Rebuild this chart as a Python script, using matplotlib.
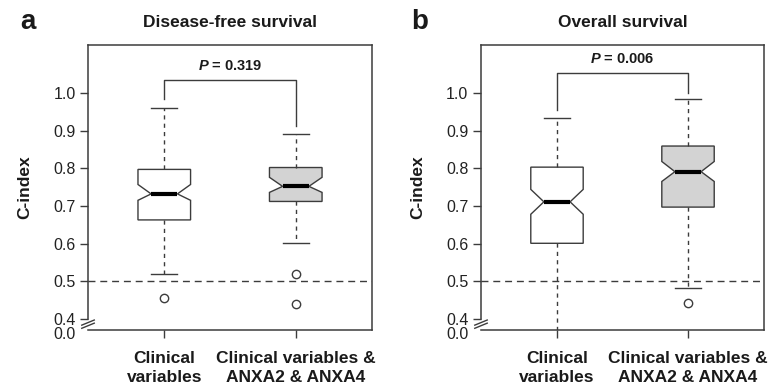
import matplotlib
matplotlib.use("Agg")
import matplotlib.pyplot as plt

plt.rcParams.update({
    "font.family": ["Liberation Sans", "DejaVu Sans"],
    "mathtext.fontset": "custom",
    "mathtext.it": "Liberation Sans:italic:bold",
    "mathtext.rm": "Liberation Sans:bold",
})

# datos
groups = ["Clinical\nvariables", "Clinical variables &\nANXA2 & ANXA4"]
titles = ["Disease-free survival", "Overall survival"]
panel_tags = ["a", "b"]
p_labels = ["0.319", "0.006"]

# panel a
dfs_med = [0.732, 0.752]
dfs_q1 = [0.663, 0.712]
dfs_q3 = [0.797, 0.802]
dfs_cilo = [0.715, 0.736]
dfs_cihi = [0.757, 0.776]
dfs_wlo = [0.519, 0.603]
dfs_whi = [0.961, 0.890]
dfs_out = [[0.455], [0.519, 0.439]]
dfs_bracket = [1.034, 0.984, 0.911]   # altura, pata izq, pata der

# panel b
os_med = [0.711, 0.791]
os_q1 = [0.601, 0.697]
os_q3 = [0.803, 0.859]
os_cilo = [0.678, 0.765]
os_cihi = [0.744, 0.818]
os_wlo = [0.30, 0.482]
os_whi = [0.933, 0.983]
os_out = [[], [0.442]]
os_bracket = [1.052, 0.955, 1.001]

edge = "#3c3c3c"
fills = ["white", "#d3d3d3"]
ylo, yhi = 0.371, 1.127

fig = plt.figure(figsize=(7.68, 3.87), dpi=100)
axes = [fig.add_axes([0.1146, 0.1473, 0.3698, 0.7364]),
        fig.add_axes([0.6263, 0.1473, 0.3685, 0.7364])]

panels = [
    (dfs_med, dfs_q1, dfs_q3, dfs_cilo, dfs_cihi, dfs_wlo, dfs_whi, dfs_out, dfs_bracket),
    (os_med, os_q1, os_q3, os_cilo, os_cihi, os_wlo, os_whi, os_out, os_bracket),
]

for k, ax in enumerate(axes):
    med, q1, q3, cilo, cihi, wlo, whi, out, br = panels[k]
    stats = []
    for i in range(2):
        stats.append(dict(med=med[i], q1=q1[i], q3=q3[i], cilo=cilo[i], cihi=cihi[i],
                          whislo=wlo[i], whishi=whi[i], fliers=out[i]))
    bp = ax.bxp(stats, positions=[1, 2], widths=0.40, shownotches=True,
                patch_artist=True, capwidths=0.20,
                boxprops=dict(edgecolor=edge, linewidth=1.0),
                whiskerprops=dict(color=edge, linewidth=1.0, linestyle=(0, (3, 3))),
                capprops=dict(color=edge, linewidth=1.0),
                medianprops=dict(color="black", linewidth=3.0, solid_capstyle="butt"),
                flierprops=dict(marker="o", markerfacecolor="none", markeredgecolor=edge,
                                markersize=6, markeredgewidth=1.0))
    for patch, fc in zip(bp["boxes"], fills):
        patch.set_facecolor(fc)

    ax.axhline(0.5, color=edge, linewidth=1.0, linestyle=(0, (5, 3.5)), zorder=0)

    # corchete del valor P
    ax.plot([1, 1, 2, 2], [br[1], br[0], br[0], br[2]], color=edge, linewidth=1.0)
    ax.text(1.5, br[0] + 0.018, "$P$ = " + p_labels[k], ha="center", va="bottom",
            fontsize=10.5, fontweight="bold", color="#1a1a1a")

    ax.set_xlim(0.42, 2.58)
    ax.set_ylim(ylo, yhi)
    ax.set_yticks([0.4, 0.5, 0.6, 0.7, 0.8, 0.9, 1.0])
    ax.set_yticklabels(["0.4", "0.5", "0.6", "0.7", "0.8", "0.9", "1.0"])
    ax.tick_params(axis="y", labelsize=11.5, length=6, width=1.0, color=edge, pad=3,
                   labelcolor="#222222")
    ax.set_xticks([1, 2])
    ax.set_xticklabels(groups, fontsize=12.5, fontweight="bold", color="#1a1a1a",
                       linespacing=1.35)
    ax.tick_params(axis="x", length=6, width=1.0, color=edge, pad=9)

    for s in ax.spines.values():
        s.set_color(edge)
        s.set_linewidth(1.1)
    ax.spines["left"].set_bounds(0.4, yhi)

    # eje cortado
    ax.annotate("0.0", xy=(0, ylo), xycoords=("axes fraction", "data"),
                xytext=(-9, -3), textcoords="offset points", ha="right", va="center",
                fontsize=11.5, color="#222222")
    for dy in [0.0, 0.011]:
        ax.plot([-0.022, 0.022], [0.006 + dy, 0.024 + dy], transform=ax.transAxes,
                color=edge, linewidth=1.0, clip_on=False)

    ax.set_ylabel("C-index", fontsize=12.5, fontweight="bold", color="#1a1a1a", labelpad=15)
    ax.set_title(titles[k], fontsize=12.5, fontweight="bold", color="#1a1a1a", pad=13)

fig.text(0.026, 0.925, "a", fontsize=20, fontweight="bold", color="#1a1a1a")
fig.text(0.535, 0.925, "b", fontsize=20, fontweight="bold", color="#1a1a1a")

fig.savefig("out.png", dpi=100)
